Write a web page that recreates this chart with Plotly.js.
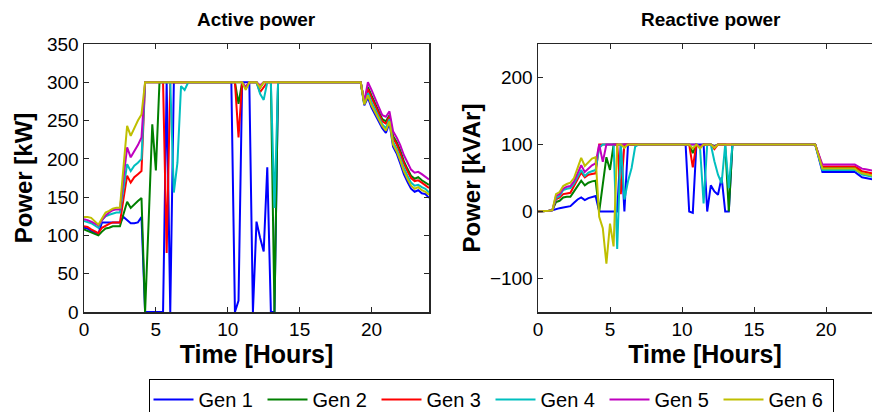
<!DOCTYPE html>
<html>
<head>
<meta charset="utf-8">
<script src="https://cdn.plot.ly/plotly-3.0.1.min.js"></script>
<style>html,body{margin:0;padding:0;background:#fff}#chart{width:872px;height:412px}</style>
</head>
<body>
<div id="chart"></div>
<script>
// Time axis (hours); long flat stretches are represented by their end points
const time = [0,0.25,0.5,0.75,1,1.25,1.5,1.75,2,2.25,2.5,2.75,3,3.25,3.5,3.75,4,4.25,4.5,4.75,5,5.25,5.5,5.75,6,6.25,6.5,6.75,7,7.25,
  10,10.25,10.5,10.75,11,11.25,11.5,11.75,12,12.25,12.5,12.75,13,13.25,13.5,13.75,
  19.25,19.5,19.75,20,20.25,20.5,20.75,21,21.25,21.5,21.75,22,22.25,22.5,22.75,23,23.25,23.5,23.75,24];

const genNames = ['Gen 1','Gen 2','Gen 3','Gen 4','Gen 5','Gen 6'];
const genColors = ['#0000ff','#008000','#ff0000','#00bfbf','#bf00bf','#bfbf00'];

// Active power [kW]
const activeGen1 = [110,109,106,104,102,117,117,117,117,117,117,124,120,116,116,117,124,0,0,0,0,0,0,300,0,300,300,300,300,300,
  300,300,0,15,300,300,300,0,118,97,79,189,0,0,300,300,
  300,270,280,267,258,249,240,234,247,216,207,194,180,170,161,157,159,155,154,149];
const activeGen2 = [108,106,104,102,100,105,109,110,112,112,112,128,144,136,141,145,149,0,120,245,185,300,300,300,300,300,300,300,300,300,
  300,300,300,272,300,293,300,300,300,293,300,300,300,0,300,300,
  300,273,294,283,272,262,252,249,257,230,222,211,197,187,178,174,176,172,169,166];
const activeGen3 = [112,111,108,106,103,110,113,115,117,117,117,148,178,169,176,180,184,300,300,300,300,300,300,77,300,300,300,300,300,300,
  300,300,300,228,300,293,300,300,300,287,293,300,300,300,300,300,
  300,273,291,280,269,259,249,246,255,227,219,207,194,184,175,171,172,169,166,162];
const activeGen4 = [119,118,116,113,110,120,125,127,129,130,130,160,193,184,191,195,200,300,300,300,300,300,300,300,300,156,195,295,290,300,
  300,300,300,300,300,292,300,300,300,285,277,300,300,136,300,300,
  300,272,286,274,264,255,245,240,252,222,213,201,188,178,169,165,166,163,161,156];
const activeGen5 = [121,120,118,116,113,120,126,130,133,134,134,175,215,202,210,218,228,300,300,300,300,300,300,300,300,300,300,300,300,300,
  300,300,300,300,300,294,300,300,300,296,300,300,300,300,300,300,
  300,275,300,290,278,268,257,255,262,236,228,218,205,195,186,182,183,180,176,173];
const activeGen6 = [124,124,123,119,114,122,130,132,135,136,136,190,243,230,241,250,258,300,300,300,300,300,300,300,300,300,300,300,300,300,
  300,300,300,300,300,290,300,300,300,293,300,300,300,300,300,300,
  300,271,283,270,261,252,243,237,249,219,210,198,184,174,165,161,163,159,157,153];

// Reactive power [kVAr]
const reactiveGen1 = [0,0,0,1,2,4,5,6,7,8,13,18,21,17,20,21,23,0,0,0,0,0,0,100,0,100,100,100,100,100,
  100,100,0,-2,100,100,100,0,39,30,25,51,0,0,100,100,
  100,80,59,59,59,59,59,59,59,59,59,59,55,51,50,49,48,47,46,45];
const reactiveGen2 = [0,0,0,1,2,14,16,21,22,22,30,38,46,39,43,45,46,0,40,81,62,100,100,100,100,100,100,100,100,100,
  100,100,100,87,100,97,100,100,100,98,100,100,100,0,100,100,
  100,83,65,65,65,65,65,65,65,65,65,65,61,57,56,55,53.5,52,51,50];
const reactiveGen3 = [0,0,0,1,2,18,21,26,27,28,38,48,58,51,55,56,57,100,100,100,100,100,100,26,100,100,100,100,100,100,
  100,100,100,66,100,97,100,100,100,93,100,100,100,100,100,100,
  100,84,67,67,67,67,67,67,67,67,67,67,64,60,59,58,56.5,55,54,53];
const reactiveGen4 = [0,0,0,1,2,20,23,32,34,35,42,52,62,53,58,60,62,95,100,100,100,100,-56,100,18,45,65,97,100,100,
  100,100,100,100,100,96,12,100,100,75,55,42,100,35,100,100,
  100,81,62,62,62,62,62,62,62,62,62,62,59,55,54,53,51.5,50,49,48];
const reactiveGen5 = [0,0,0,1,2,23,26,34,37,38,45,57,69,59,64,69,72,100,74,100,100,100,100,100,100,100,100,100,100,100,
  100,100,100,100,100,97,100,100,100,97,100,100,100,100,100,100,
  100,85,70,70,70,70,70,70,70,70,70,70,67,64,63,62,61,60,59,58];
const reactiveGen6 = [0,0,0,1,2,26,29,38,41,43,50,65,80,68,74,79,81,-8,-25,-78,-18,-52,100,100,95,100,100,100,100,100,
  100,100,100,94,100,94,100,100,100,95,100,100,100,100,100,100,
  100,82,64,64,64,64,64,64,64,64,64,64,60,57,56,55,53.5,52,51,50];

const xTicks = [0,5,10,15,20];
const activeTicks = [0,50,100,150,200,250,300,350];
const reactiveTicks = [-100,0,100,200];

const activeSeries = [activeGen1,activeGen2,activeGen3,activeGen4,activeGen5,activeGen6];
const reactiveSeries = [reactiveGen1,reactiveGen2,reactiveGen3,reactiveGen4,reactiveGen5,reactiveGen6];

const traces = [];
genNames.forEach((name, i) => {
  traces.push({x: time, y: activeSeries[i], type: 'scatter', mode: 'lines', name: name,
    legendgroup: name, line: {color: genColors[i], width: 2}, xaxis: 'x', yaxis: 'y'});
});
genNames.forEach((name, i) => {
  traces.push({x: time, y: reactiveSeries[i], type: 'scatter', mode: 'lines', name: name,
    legendgroup: name, showlegend: false, line: {color: genColors[i], width: 2}, xaxis: 'x2', yaxis: 'y2'});
});

const FONT = 'Liberation Sans';
const W = 872, H = 412, T = 44, B = 100;
const PH = H - T - B;
const axisCommon = {ticks: 'inside', ticklen: 5, tickwidth: 1, tickcolor: '#262626', showline: true,
  linecolor: '#262626', linewidth: 1.5, showgrid: false, zeroline: false,
  tickfont: {family: FONT, size: 19, color: '#000'}};
const xTitleFont = {family: FONT, size: 25, color: '#000'};
const yTitleFont = {family: FONT, size: 24, color: '#000'};

const layout = {
  width: W, height: H,
  margin: {l: 0, r: 0, t: T, b: B, autoexpand: false},
  paper_bgcolor: '#fff', plot_bgcolor: '#fff',
  font: {family: FONT, size: 19, color: '#000'},
  showlegend: true,
  xaxis: Object.assign({}, axisCommon, {domain: [84/W, 429/W], range: [0, 24], tickvals: xTicks,
    mirror: 'ticks', anchor: 'y', title: {text: '<b>Time [Hours]</b>', font: xTitleFont, standoff: 3}}),
  yaxis: Object.assign({}, axisCommon, {domain: [0, 1], range: [0, 350], tickvals: activeTicks,
    mirror: 'ticks', anchor: 'x', title: {text: '<b>Power [kW]</b>', font: yTitleFont, standoff: 7}}),
  xaxis2: Object.assign({}, axisCommon, {domain: [538/W, 1], range: [0, (W - 538) / 14.4], tickvals: xTicks,
    mirror: 'ticks', anchor: 'y2', title: {text: '<b>Time [Hours]</b>', font: xTitleFont, standoff: 3}}),
  yaxis2: Object.assign({}, axisCommon, {domain: [0, 1], range: [-150, 250], tickvals: reactiveTicks,
    mirror: false, anchor: 'x2', title: {text: '<b>Power [kVAr]</b>', font: yTitleFont, standoff: 2}}),
  legend: {orientation: 'h', x: 491/W, xanchor: 'center', y: (312 - 379) / PH, yanchor: 'top',
    bordercolor: '#000', borderwidth: 1, bgcolor: '#fff', font: {family: FONT, size: 20, color: '#000'},
    itemwidth: 40, tracegroupgap: 0, entrywidth: 59, entrywidthmode: 'pixels'},
  annotations: [
    {text: '<b>Active power</b>', xref: 'paper', yref: 'paper', x: 256.5/W, y: (312 - 20) / PH,
      xanchor: 'center', yanchor: 'middle', showarrow: false, font: {family: FONT, size: 19, color: '#000'}},
    {text: '<b>Reactive power</b>', xref: 'paper', yref: 'paper', x: 710.5/W, y: (312 - 20) / PH,
      xanchor: 'center', yanchor: 'middle', showarrow: false, font: {family: FONT, size: 19, color: '#000'}}
  ]
};

Plotly.newPlot('chart', traces, layout, {displayModeBar: false, staticPlot: true});
</script>
</body>
</html>
